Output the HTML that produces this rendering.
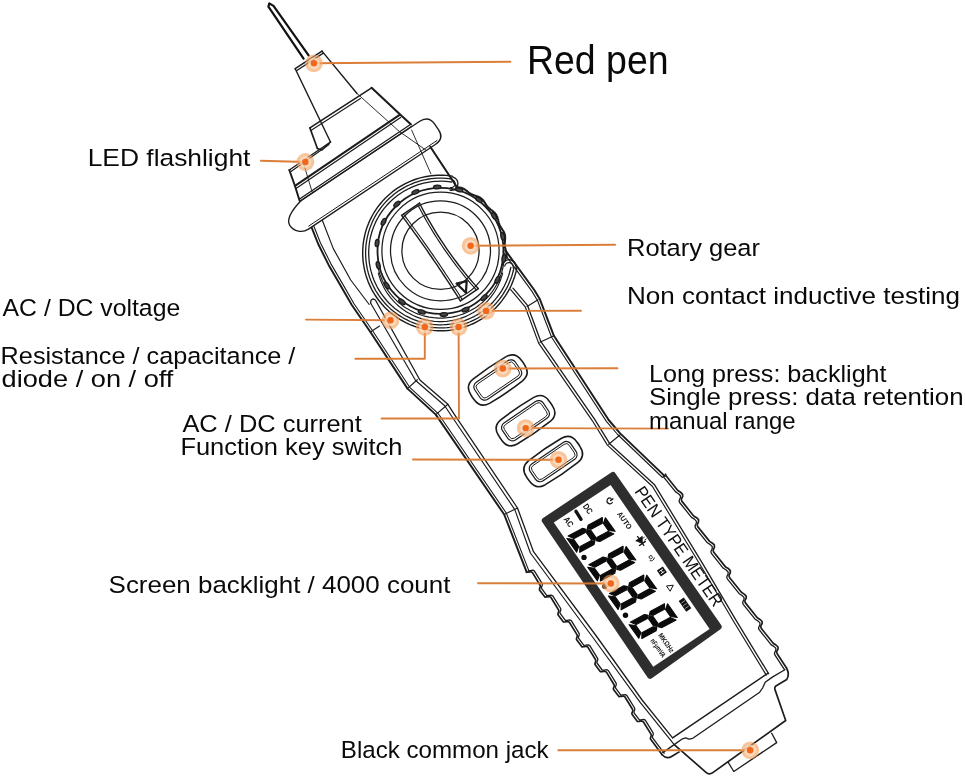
<!DOCTYPE html>
<html><head><meta charset="utf-8"><title>Pen type meter</title>
<style>html,body{margin:0;padding:0;background:#fff;}svg{display:block;will-change:transform}text{font-family:"Liberation Sans",sans-serif;fill:#0a0a0a}</style>
</head><body>
<svg width="965" height="776" viewBox="0 0 965 776">
<rect width="965" height="776" fill="#fff"/>
<path d="M303.6,58.6 L268.4,6.7 L269.3,3.4 L273.5,5.9 L308.6,55.3" fill="none" stroke="#111" stroke-width="2.21" stroke-linejoin="round" stroke-linecap="round" />
<path d="M295.2,68.7 L322.0,51.1" fill="none" stroke="#1c1c1c" stroke-width="1.56" stroke-linejoin="round" stroke-linecap="round" />
<path d="M296.5,70.7 L323.3,53.1" fill="none" stroke="#1c1c1c" stroke-width="1.3" stroke-linejoin="round" stroke-linecap="round" />
<path d="M295.2,68.7 L330.5,142.0" fill="none" stroke="#1c1c1c" stroke-width="1.4300000000000002" stroke-linejoin="round" stroke-linecap="round" />
<path d="M322.0,51.1 L357.0,93.5" fill="none" stroke="#1c1c1c" stroke-width="1.4300000000000002" stroke-linejoin="round" stroke-linecap="round" />
<path d="M357.0,93.5 L399.6,131.7 L425.8,150.0" fill="none" stroke="#1c1c1c" stroke-width="0.9099999999999999" stroke-linejoin="round" stroke-linecap="round" />
<path d="M309.9,127.9 L371.6,87.8" fill="none" stroke="#1c1c1c" stroke-width="1.56" stroke-linejoin="round" stroke-linecap="round" />
<path d="M310.9,130.5 L360.4,98.5" fill="none" stroke="#1c1c1c" stroke-width="1.1700000000000002" stroke-linejoin="round" stroke-linecap="round" />
<path d="M371.6,87.8 L399.6,113.9 L410.8,124.2" fill="none" stroke="#1c1c1c" stroke-width="2.08" stroke-linejoin="round" stroke-linecap="round" />
<path d="M309.9,127.9 L317.4,148.5" fill="none" stroke="#1c1c1c" stroke-width="1.6900000000000002" stroke-linejoin="round" stroke-linecap="round" />
<path d="M317.4,148.5 L322.0,150.0 L330.5,142.0" fill="none" stroke="#1c1c1c" stroke-width="1.4300000000000002" stroke-linejoin="round" stroke-linecap="round" />
<path d="M330.5,142.0 L289.3,170.0" fill="none" stroke="#1c1c1c" stroke-width="1.4300000000000002" stroke-linejoin="round" stroke-linecap="round" />
<path d="M329.0,144.5 L291.0,171.5" fill="none" stroke="#1c1c1c" stroke-width="1.1700000000000002" stroke-linejoin="round" stroke-linecap="round" />
<path d="M289.3,170.0 L295.0,186.0 L299.6,200.8" fill="none" stroke="#1c1c1c" stroke-width="1.9500000000000002" stroke-linejoin="round" stroke-linecap="round" />
<path d="M303.6,163.7 L312.1,191.8" fill="none" stroke="#1c1c1c" stroke-width="0.9099999999999999" stroke-linejoin="round" stroke-linecap="round" />
<path d="M295.0,185.9 L399.6,114.9" fill="none" stroke="#1c1c1c" stroke-width="2.08" stroke-linejoin="round" stroke-linecap="round" />
<path d="M296.0,188.5 L400.6,117.5" fill="none" stroke="#1c1c1c" stroke-width="1.3" stroke-linejoin="round" stroke-linecap="round" />
<path d="M299.6,199.0 L410.8,124.2" fill="none" stroke="#1c1c1c" stroke-width="1.3" stroke-linejoin="round" stroke-linecap="round" />
<path d="M300.6,201.0 L411.8,126.2" fill="none" stroke="#1c1c1c" stroke-width="1.1700000000000002" stroke-linejoin="round" stroke-linecap="round" />
<g transform="translate(289.45,224.97) rotate(-33.7)" fill="none" stroke="#1c1c1c">
<path d="M24,-14 H165.5 Q176.8,-14 176.8,-3 V4 Q176.8,14 166,14 H13.5 A13.5,13.5 0 0 1 0,0.5 Q0.5,-9 24,-14" stroke-width="1.4"/>
<path d="M15,11.6 H170" stroke-width="0.9"/>
</g>
<path d="M411.6,130.0 L430.9,173.8" fill="none" stroke="#1c1c1c" stroke-width="0.9099999999999999" stroke-linejoin="round" stroke-linecap="round" />
<path d="M311.8,227.8 L318.2,244.0 L328.6,264.9 L341.4,286.9 L351.8,305.0 L370.4,332.0 L407.5,388.6 L435.8,414.6 L504.2,514.5 L526.7,572.2" fill="none" stroke="#1c1c1c" stroke-width="1.9500000000000002" stroke-linejoin="round" stroke-linecap="round" />
<path d="M314.0,226.5 L320.4,242.7 L330.8,263.6 L343.6,285.6 L354.0,303.7 L372.6,330.7 L409.7,387.3 L438.0,413.3 L506.4,513.2 L528.9,570.9" fill="none" stroke="#1c1c1c" stroke-width="1.105" stroke-linejoin="round" stroke-linecap="round" />
<path d="M322.3,220.2 L333.3,248.6 L350.7,280.0 L369.2,304.5" fill="none" stroke="#1c1c1c" stroke-width="1.1700000000000002" stroke-linejoin="round" stroke-linecap="round" />
<path d="M370.6,303.0 L371.0,300.2 L373.0,298.8 L375.4,300.0 L419.9,380.0 L447.9,404.3 L454.5,414.6 L517.5,508.0 L533.5,551.7 L596.3,636.0 L642.1,700.0 L672.6,737.8" fill="none" stroke="#1c1c1c" stroke-width="1.3" stroke-linejoin="round" stroke-linecap="round" />
<path d="M370.6,303.0 L415.6,380.5 L444.5,405.5 L451.5,416.0 L514.8,509.6 L530.4,553.0 L593.3,638.0 L640.0,702.1 L674.2,744.6" fill="none" stroke="#1c1c1c" stroke-width="1.1700000000000002" stroke-linejoin="round" stroke-linecap="round" />
<path d="M370.4,332.0 L379.6,326.1" fill="none" stroke="#1c1c1c" stroke-width="1.1700000000000002" stroke-linejoin="round" stroke-linecap="round" />
<path d="M407.2,388.9 L417.3,379.7" fill="none" stroke="#1c1c1c" stroke-width="1.1700000000000002" stroke-linejoin="round" stroke-linecap="round" />
<path d="M435.8,414.6 L447.9,404.3" fill="none" stroke="#1c1c1c" stroke-width="1.1700000000000002" stroke-linejoin="round" stroke-linecap="round" />
<path d="M504.2,514.5 L517.5,508.0" fill="none" stroke="#1c1c1c" stroke-width="1.1700000000000002" stroke-linejoin="round" stroke-linecap="round" />
<path d="M430.3,146.8 L456.7,186.7" fill="none" stroke="#1c1c1c" stroke-width="2.08" stroke-linejoin="round" stroke-linecap="round" />
<path d="M505.3,250.3 L534.3,290.0 L539.9,299.3 L553.9,335.8 L608.7,420.0 L619.9,433.1 L664.8,476.1" fill="none" stroke="#1c1c1c" stroke-width="1.9500000000000002" stroke-linejoin="round" stroke-linecap="round" />
<path d="M503.0,251.7 L532.0,291.4 L537.6,300.7 L551.6,337.2 L606.4,421.4 L617.6,434.5 L662.5,477.5" fill="none" stroke="#1c1c1c" stroke-width="1.105" stroke-linejoin="round" stroke-linecap="round" />
<path d="M513.0,288.2 L527.5,305.4 L540.9,341.7 L594.7,419.4 L609.7,443.7 L654.6,484.8 L703.1,564.4 L735.5,619.4 L768.6,673.7" fill="none" stroke="#1c1c1c" stroke-width="1.3" stroke-linejoin="round" stroke-linecap="round" />
<path d="M510.7,289.6 L525.2,306.8 L538.6,343.1 L592.4,420.8 L607.4,445.1 L652.3,486.2 L700.8,565.8 L733.2,620.8 L766.3,675.1" fill="none" stroke="#1c1c1c" stroke-width="1.1700000000000002" stroke-linejoin="round" stroke-linecap="round" />
<path d="M527.1,306.4 L538.0,299.7" fill="none" stroke="#1c1c1c" stroke-width="1.1700000000000002" stroke-linejoin="round" stroke-linecap="round" />
<path d="M539.9,342.3 L553.5,336.0" fill="none" stroke="#1c1c1c" stroke-width="1.1700000000000002" stroke-linejoin="round" stroke-linecap="round" />
<path d="M608.7,444.3 L619.9,435.0" fill="none" stroke="#1c1c1c" stroke-width="1.1700000000000002" stroke-linejoin="round" stroke-linecap="round" />
<path d="M526.4,572.2 L528.2,572.1 L530.7,571.7 L532.3,572.4 L540.1,585.2 L540.3,586.6 L539.5,588.8 L539.5,589.9 L544.7,596.8 L544.9,597.1 L546.7,596.9 L549.2,596.6 L550.8,597.3 L558.6,610.0 L558.8,611.4 L558.0,613.6 L558.0,614.7 L563.2,621.7 L563.4,622.0 L565.2,621.8 L567.7,621.4 L569.3,622.2 L577.1,634.9 L577.3,636.3 L576.5,638.5 L576.5,639.6 L581.7,646.6 L581.9,646.8 L583.7,646.7 L586.2,646.3 L587.8,647.1 L595.6,659.8 L595.8,661.2 L595.0,663.4 L595.0,664.5 L600.2,671.5 L600.4,671.7 L602.1,671.6 L604.7,671.2 L606.3,671.9 L614.1,684.7 L614.3,686.1 L613.4,688.3 L613.5,689.4 L618.7,696.3 L618.9,696.6 L620.6,696.4 L623.2,696.1 L624.8,696.8 L632.6,709.5 L632.8,711.0 L631.9,713.1 L632.0,714.2 L637.2,721.2 L637.4,721.5 L639.1,721.3 L641.7,720.9 L643.3,721.7 L651.1,734.4 L651.3,735.8 L650.4,738.0 L650.5,739.1 L655.7,746.1 L662.1,754.7" fill="none" stroke="#1c1c1c" stroke-width="1.6900000000000002" stroke-linejoin="round" stroke-linecap="round" />
<path d="M528.4,570.7 L530.2,570.6 L532.8,570.2 L534.3,570.9 L542.2,583.7 L542.3,585.1 L541.5,587.3 L541.5,588.4 L546.7,595.3 L546.9,595.6 L548.7,595.4 L551.2,595.1 L552.8,595.8 L560.7,608.5 L560.8,610.0 L560.0,612.1 L560.0,613.2 L565.2,620.2 L565.4,620.5 L567.2,620.3 L569.7,619.9 L571.3,620.7 L579.1,633.4 L579.3,634.8 L578.5,637.0 L578.5,638.1 L583.7,645.1 L583.9,645.3 L585.7,645.2 L588.2,644.8 L589.8,645.6 L597.6,658.3 L597.8,659.7 L597.0,661.9 L597.0,663.0 L602.2,670.0 L602.4,670.2 L604.2,670.1 L606.7,669.7 L608.3,670.5 L616.1,683.2 L616.3,684.6 L615.5,686.8 L615.5,687.9 L620.7,694.8 L620.9,695.1 L622.7,694.9 L625.2,694.6 L626.8,695.3 L634.6,708.0 L634.8,709.5 L634.0,711.6 L634.0,712.8 L639.2,719.7 L639.4,720.0 L641.1,719.8 L643.7,719.4 L645.3,720.2 L653.1,732.9 L653.3,734.3 L652.4,736.5 L652.5,737.6 L657.7,744.6 L664.1,753.2" fill="none" stroke="#1c1c1c" stroke-width="1.3" stroke-linejoin="round" stroke-linecap="round" />
<path d="M665.5,474.2 L666.0,475.7 L677.8,490.6 L680.7,492.3 L682.6,494.3 L682.7,496.4 L681.6,498.5 L681.3,499.5 L681.4,499.6 L681.8,501.1 L693.7,516.0 L696.6,517.7 L698.5,519.7 L698.5,521.8 L697.5,523.9 L697.2,525.0 L697.3,525.1 L697.7,526.6 L709.6,541.4 L712.5,543.2 L714.4,545.2 L714.4,547.3 L713.4,549.4 L713.1,550.4 L713.2,550.5 L713.6,552.0 L725.5,566.9 L728.4,568.6 L730.3,570.6 L730.3,572.7 L729.3,574.8 L729.0,575.9 L729.1,576.0 L729.5,577.5 L741.4,592.3 L744.2,594.1 L746.2,596.1 L746.2,598.2 L745.1,600.2 L744.9,601.3 L744.9,601.4 L745.4,602.9 L757.3,617.8 L760.1,619.5 L762.1,621.5 L762.1,623.6 L761.0,625.7 L760.7,626.8 L760.8,626.9 L761.3,628.4 L773.2,643.2 L776.0,645.0 L778.0,647.0 L778.0,649.1 L776.9,651.1 L776.6,652.2 L776.7,652.3 L777.2,653.8 L786.5,668.0" fill="none" stroke="#1c1c1c" stroke-width="1.6900000000000002" stroke-linejoin="round" stroke-linecap="round" />
<path d="M663.3,475.6 L663.7,477.1 L675.6,491.9 L678.5,493.7 L680.4,495.7 L680.4,497.8 L679.4,499.8 L679.1,500.9 L679.2,501.0 L679.6,502.5 L691.5,517.4 L694.4,519.1 L696.3,521.1 L696.3,523.2 L695.3,525.3 L695.0,526.3 L695.1,526.5 L695.5,528.0 L707.4,542.8 L710.3,544.6 L712.2,546.5 L712.2,548.7 L711.2,550.7 L710.9,551.8 L711.0,551.9 L711.4,553.4 L723.3,568.3 L726.2,570.0 L728.1,572.0 L728.1,574.1 L727.0,576.2 L726.8,577.2 L726.8,577.4 L727.3,578.9 L739.2,593.7 L742.0,595.5 L744.0,597.4 L744.0,599.5 L742.9,601.6 L742.7,602.7 L742.7,602.8 L743.2,604.3 L755.1,619.2 L757.9,620.9 L759.9,622.9 L759.9,625.0 L758.8,627.1 L758.5,628.1 L758.6,628.3 L759.1,629.7 L771.0,644.6 L773.8,646.4 L775.8,648.3 L775.8,650.4 L774.7,652.5 L774.4,653.6 L774.5,653.7 L775.0,655.2 L784.3,669.4" fill="none" stroke="#1c1c1c" stroke-width="1.3" stroke-linejoin="round" stroke-linecap="round" />
<path d="M786.5,668 Q790,674 786.7,679.6 L775.9,685.9 Q774.2,687.6 775,689.6 L785.7,720.5 L712.8,772.6 Q709,775.2 706,772.3 L674.2,744.6" fill="none" stroke="#1c1c1c" stroke-width="1.69" stroke-linejoin="round"/>
<path d="M662.1,754.7 Q666.6,759.6 672,756.2 L679.6,751.6" fill="none" stroke="#1c1c1c" stroke-width="1.69" stroke-linejoin="round"/>
<path d="M784.9,669.7 L772.7,676.9 L765.2,682.3 L762.6,688.0 L759.7,692.2 L692.8,738.3 L689.0,739.2 L685.6,737.8 L682.5,738.8 L674.2,744.6 L662.8,752.6" fill="none" stroke="#1c1c1c" stroke-width="1.3" stroke-linejoin="round" stroke-linecap="round" />
<path d="M767.8,673.3 L672.6,737.8" fill="none" stroke="#1c1c1c" stroke-width="1.4300000000000002" stroke-linejoin="round" stroke-linecap="round" />
<path d="M771.7,733.2 L776.7,742.6 L733.8,771.5 L728.1,762.2" fill="none" stroke="#1c1c1c" stroke-width="1.3" stroke-linejoin="round" stroke-linecap="round" />
<path d="M516.7,268.5 L516.1,271.5 L515.3,274.4 L514.4,277.3 L513.4,280.1 L512.3,282.9 L511.1,285.7 L509.8,288.4 L508.3,291.1 L506.8,293.7 L505.2,296.2 L503.4,298.7 L501.6,301.1 L499.7,303.5 L497.7,305.7 L495.6,307.9 L493.4,310.0 L491.2,312.0 L488.8,314.0 L486.4,315.8 L484.0,317.5 L481.4,319.2 L478.8,320.7 L476.2,322.1 L473.5,323.5 L470.7,324.7 L467.9,325.8 L465.0,326.8 L462.1,327.7 L459.2,328.5 L456.3,329.2 L453.3,329.7 L450.3,330.2 L447.3,330.5 L444.3,330.7 L441.3,330.8 L438.2,330.8 L435.2,330.6 L432.2,330.4 L429.2,330.0 L426.2,329.5 L423.3,328.9 L420.3,328.1 L417.4,327.3 L414.6,326.3 L411.7,325.3 L408.9,324.1 L406.2,322.8 L403.5,321.4 L400.9,320.0 L398.3,318.4 L395.8,316.7 L393.4,314.9 L391.0,313.0 L388.7,311.1 L386.5,309.0 L384.4,306.9 L382.3,304.6 L380.3,302.3 L378.5,300.0 L376.7,297.5 L375.0,295.0 L373.4,292.4 L371.9,289.8 L370.6,287.1 L369.3,284.4 L368.1,281.6 L367.1,278.7 L366.1,275.9 L365.3,273.0 L364.6,270.0 L364.0,267.1 L363.5,264.1 L363.1,261.1 L362.9,258.1 L362.7,255.0 L362.7,252.0 L362.8,249.0 L363.0,246.0 L363.3,243.0 L363.8,240.0 L364.4,237.0 L365.0,234.1 L365.8,231.1 L366.7,228.3 L367.8,225.4 L368.9,222.6 L370.1,219.8 L371.5,217.1 L372.9,214.5 L374.5,211.9 L376.1,209.4 L377.8,206.9 L379.7,204.5 L381.6,202.2 L383.6,199.9 L385.7,197.7 L387.9,195.7 L390.2,193.7 L392.5,191.7 L395.0,189.9 L397.4,188.2 L400.0,186.6 L402.6,185.1 L405.3,183.6 L408.0,182.3 L410.8,181.1 L413.6,180.0 L416.4,179.0 L419.3,178.1 L422.2,177.4 L425.2,176.7 L428.2,176.2 L431.2,175.8 L434.2,175.5 L437.2,175.3 L440.2,175.2 L443.2,175.2 L446.3,175.4 L449.3,175.7 L452.3,176.1" fill="none" stroke="#1c1c1c" stroke-width="1.4300000000000002" stroke-linejoin="round" stroke-linecap="round" />
<path d="M513.9,267.9 L513.3,270.8 L512.5,273.6 L511.7,276.4 L510.7,279.1 L509.6,281.8 L508.5,284.5 L507.2,287.1 L505.8,289.7 L504.3,292.2 L502.8,294.6 L501.1,297.0 L499.3,299.3 L497.5,301.6 L495.6,303.8 L493.6,305.9 L491.5,307.9 L489.3,309.8 L487.0,311.7 L484.7,313.4 L482.3,315.1 L479.9,316.7 L477.4,318.2 L474.8,319.6 L472.2,320.8 L469.6,322.0 L466.9,323.1 L464.1,324.1 L461.3,324.9 L458.5,325.7 L455.7,326.3 L452.8,326.9 L449.9,327.3 L447.1,327.6 L444.2,327.8 L441.2,327.9 L438.3,327.9 L435.4,327.7 L432.5,327.5 L429.6,327.1 L426.8,326.6 L423.9,326.0 L421.1,325.3 L418.3,324.5 L415.5,323.6 L412.8,322.6 L410.1,321.5 L407.5,320.2 L404.9,318.9 L402.4,317.5 L399.9,315.9 L397.5,314.3 L395.1,312.6 L392.8,310.8 L390.6,308.9 L388.5,306.9 L386.4,304.8 L384.5,302.7 L382.6,300.5 L380.8,298.2 L379.1,295.9 L377.5,293.4 L375.9,291.0 L374.5,288.4 L373.2,285.8 L372.0,283.2 L370.8,280.5 L369.8,277.8 L368.9,275.0 L368.1,272.2 L367.4,269.4 L366.8,266.5 L366.4,263.7 L366.0,260.8 L365.8,257.9 L365.6,255.0 L365.6,252.1 L365.7,249.1 L365.9,246.2 L366.2,243.3 L366.7,240.5 L367.2,237.6 L367.9,234.8 L368.6,232.0 L369.5,229.2 L370.5,226.4 L371.6,223.7 L372.7,221.1 L374.0,218.5 L375.4,215.9 L376.9,213.4 L378.5,211.0 L380.2,208.6 L381.9,206.3 L383.8,204.1 L385.8,201.9 L387.8,199.8 L389.9,197.8 L392.1,195.9 L394.3,194.0 L396.7,192.3 L399.0,190.6 L401.5,189.1 L404.0,187.6 L406.6,186.2 L409.2,185.0 L411.9,183.8 L414.6,182.7 L417.3,181.8 L420.1,180.9 L422.9,180.2 L425.8,179.6 L428.6,179.0 L431.5,178.6 L434.4,178.3 L437.3,178.2 L440.2,178.1 L443.1,178.1 L446.0,178.3 L448.9,178.6 L451.8,179.0" fill="none" stroke="#1c1c1c" stroke-width="1.3" stroke-linejoin="round" stroke-linecap="round" />
<path d="M510.9,267.3 L510.2,270.0 L509.5,272.7 L508.7,275.4 L507.8,278.0 L506.8,280.6 L505.6,283.2 L504.4,285.7 L503.1,288.2 L501.7,290.6 L500.2,292.9 L498.6,295.2 L496.9,297.4 L495.1,299.6 L493.3,301.7 L491.4,303.7 L489.4,305.6 L487.3,307.5 L485.1,309.3 L482.9,310.9 L480.6,312.5 L478.3,314.1 L475.9,315.5 L473.4,316.8 L470.9,318.0 L468.4,319.2 L465.8,320.2 L463.1,321.1 L460.5,322.0 L457.8,322.7 L455.1,323.3 L452.3,323.8 L449.6,324.2 L446.8,324.5 L444.0,324.7 L441.2,324.8 L438.4,324.8 L435.6,324.6 L432.9,324.4 L430.1,324.0 L427.3,323.6 L424.6,323.0 L421.9,322.3 L419.2,321.6 L416.6,320.7 L414.0,319.7 L411.4,318.6 L408.9,317.4 L406.4,316.2 L403.9,314.8 L401.6,313.3 L399.3,311.8 L397.0,310.1 L394.8,308.4 L392.7,306.6 L390.7,304.7 L388.7,302.7 L386.8,300.7 L385.0,298.5 L383.3,296.3 L381.6,294.1 L380.1,291.8 L378.6,289.4 L377.2,287.0 L376.0,284.5 L374.8,281.9 L373.7,279.4 L372.7,276.7 L371.9,274.1 L371.1,271.4 L370.4,268.7 L369.9,266.0 L369.4,263.2 L369.1,260.4 L368.9,257.7 L368.7,254.9 L368.7,252.1 L368.8,249.3 L369.0,246.5 L369.3,243.7 L369.7,241.0 L370.2,238.2 L370.9,235.5 L371.6,232.8 L372.4,230.2 L373.4,227.5 L374.4,225.0 L375.5,222.4 L376.8,219.9 L378.1,217.5 L379.5,215.1 L381.1,212.7 L382.7,210.4 L384.4,208.2 L386.2,206.1 L388.0,204.0 L390.0,202.0 L392.0,200.1 L394.1,198.2 L396.2,196.5 L398.5,194.8 L400.8,193.2 L403.1,191.7 L405.5,190.3 L408.0,189.0 L410.5,187.8 L413.1,186.7 L415.7,185.6 L418.3,184.7 L421.0,183.9 L423.7,183.2 L426.4,182.6 L429.1,182.1 L431.9,181.7 L434.7,181.4 L437.5,181.3 L440.2,181.2 L443.0,181.2 L445.8,181.4 L448.6,181.7 L451.4,182.0" fill="none" stroke="#1c1c1c" stroke-width="1.3" stroke-linejoin="round" stroke-linecap="round" />
<path d="M501.8,265.5 L502.3,264.1 L502.9,262.9 L503.8,261.8 L504.9,260.9 L506.2,260.3 L507.5,259.8 L508.9,259.7 L510.3,259.9 L511.7,260.3 L512.9,260.9 L514.0,261.8 L514.9,262.9 L515.6,264.2 L516.0,265.5 L516.1,266.9 L516.0,268.4" fill="none" stroke="#1c1c1c" stroke-width="1.3" stroke-linejoin="round" stroke-linecap="round" />
<path d="M504.7,266.1 L505.1,265.0 L505.7,264.1 L506.5,263.3 L507.5,262.8 L508.6,262.6 L509.8,262.7 L510.8,263.1 L511.7,263.7 L512.5,264.5 L513.0,265.6 L513.2,266.7 L513.1,267.8" fill="none" stroke="#1c1c1c" stroke-width="1.1700000000000002" stroke-linejoin="round" stroke-linecap="round" />
<path d="M452.1,176.9 L453.4,177.2 L454.6,177.8 L455.7,178.6 L456.6,179.6 L457.3,180.7 L457.7,182.0 L457.9,183.3 L457.8,184.6 L457.5,185.9 L456.9,187.1 L456.1,188.2 L455.1,189.1 L454.0,189.8 L452.7,190.2 L451.4,190.4 L450.1,190.3" fill="none" stroke="#1c1c1c" stroke-width="1.3" stroke-linejoin="round" stroke-linecap="round" />
<path d="M451.7,179.7 L452.7,179.9 L453.6,180.5 L454.3,181.2 L454.8,182.2 L455.1,183.2 L455.1,184.2 L454.8,185.2 L454.2,186.1 L453.5,186.8 L452.6,187.3 L451.6,187.6 L450.5,187.6" fill="none" stroke="#1c1c1c" stroke-width="1.1700000000000002" stroke-linejoin="round" stroke-linecap="round" />
<path d="M503.7,263.2 L503.3,265.4 L502.9,267.7 L502.4,269.9 L501.8,272.1 L501.1,274.3 L500.3,276.4 L499.5,278.6 L498.6,280.7 L497.6,282.7 L496.6,284.7 L495.4,286.7 L494.2,288.7 L493.0,290.6 L491.7,292.4 L490.3,294.2 L488.8,296.0 L487.3,297.7 L485.7,299.3 L484.1,300.9 L482.4,302.5 L480.6,303.9 L478.8,305.3 L477.0,306.7 L475.1,307.9 L473.1,309.1 L471.1,310.3 L469.1,311.3 L467.1,312.3 L465.0,313.2 L462.8,314.1 L460.7,314.8 L458.5,315.5 L456.3,316.1 L454.1,316.6 L451.9,317.1 L449.6,317.4 L447.3,317.7 L445.1,317.9 L442.8,318.1 L440.5,318.1 L438.2,318.1 L435.9,317.9 L433.7,317.7 L431.4,317.4 L429.1,317.1 L426.9,316.6 L424.7,316.1 L422.5,315.5 L420.3,314.8 L418.2,314.1 L416.0,313.2 L413.9,312.3 L411.9,311.3 L409.9,310.3 L407.9,309.1 L405.9,307.9 L404.0,306.7 L402.2,305.3 L400.4,303.9 L398.6,302.5 L396.9,300.9 L395.3,299.3 L393.7,297.7 L392.2,296.0 L390.7,294.2 L389.3,292.4 L388.0,290.6 L386.8,288.7 L385.6,286.7 L384.4,284.7 L383.4,282.7 L382.4,280.7 L381.5,278.6 L380.7,276.4 L379.9,274.3 L379.2,272.1 L378.6,269.9 L378.1,267.7 L377.7,265.4 L377.3,263.2" fill="none" stroke="#1c1c1c" stroke-width="1.1700000000000002" stroke-linejoin="round" stroke-linecap="round" />
<path d="M502.6,273.1 L502.1,275.1 L501.4,277.2 L500.8,279.2 L500.0,281.2 L499.2,283.1 L498.3,285.1 L497.4,287.0 L496.4,288.8 L495.3,290.7 L494.2,292.5 L493.0,294.2 L491.7,295.9 L490.4,297.6 L489.1,299.2 L487.7,300.8 L486.2,302.4 L484.7,303.9 L483.2,305.3 L481.6,306.7 L479.9,308.0 L478.2,309.3 L476.5,310.5 L474.7,311.7 L472.9,312.8 L471.0,313.8 L469.2,314.8 L467.2,315.7 L465.3,316.6 L463.3,317.4 L461.3,318.1 L459.3,318.8 L457.3,319.4 L455.2,319.9 L453.2,320.3 L451.1,320.7 L449.0,321.0 L446.9,321.3 L444.7,321.5 L442.6,321.6 L440.5,321.6 L438.4,321.6 L436.3,321.5 L434.1,321.3 L432.0,321.0 L429.9,320.7 L427.8,320.3 L425.8,319.9 L423.7,319.4 L421.7,318.8 L419.7,318.1 L417.7,317.4 L415.7,316.6 L413.8,315.7 L411.8,314.8 L410.0,313.8 L408.1,312.8 L406.3,311.7 L404.5,310.5 L402.8,309.3 L401.1,308.0 L399.4,306.7 L397.8,305.3 L396.3,303.9 L394.8,302.4 L393.3,300.8 L391.9,299.2 L390.6,297.6 L389.3,295.9 L388.0,294.2 L386.8,292.5 L385.7,290.7 L384.6,288.8 L383.6,287.0 L382.7,285.1 L381.8,283.1 L381.0,281.2 L380.2,279.2 L379.6,277.2 L378.9,275.1 L378.4,273.1" fill="none" stroke="#1c1c1c" stroke-width="1.1700000000000002" stroke-linejoin="round" stroke-linecap="round" />
<circle cx="440.5" cy="250.8" r="63.0" fill="none" stroke="#1c1c1c" stroke-width="1.8"/>
<ellipse cx="503.9" cy="258.6" rx="3.7" ry="1.9" transform="rotate(97.0 503.9 258.6)" fill="#444" stroke="#1c1c1c" stroke-width="1.3"/>
<ellipse cx="497.4" cy="279.8" rx="3.7" ry="1.9" transform="rotate(117.0 497.4 279.8)" fill="#444" stroke="#1c1c1c" stroke-width="1.3"/>
<ellipse cx="484.1" cy="297.5" rx="3.7" ry="1.9" transform="rotate(137.0 484.1 297.5)" fill="#444" stroke="#1c1c1c" stroke-width="1.3"/>
<ellipse cx="465.5" cy="309.6" rx="3.7" ry="1.9" transform="rotate(157.0 465.5 309.6)" fill="#444" stroke="#1c1c1c" stroke-width="1.3"/>
<ellipse cx="443.8" cy="314.6" rx="3.7" ry="1.9" transform="rotate(177.0 443.8 314.6)" fill="#444" stroke="#1c1c1c" stroke-width="1.3"/>
<ellipse cx="421.8" cy="311.9" rx="3.7" ry="1.9" transform="rotate(197.0 421.8 311.9)" fill="#444" stroke="#1c1c1c" stroke-width="1.3"/>
<ellipse cx="402.0" cy="301.8" rx="3.7" ry="1.9" transform="rotate(217.0 402.0 301.8)" fill="#444" stroke="#1c1c1c" stroke-width="1.3"/>
<ellipse cx="386.9" cy="285.6" rx="3.7" ry="1.9" transform="rotate(237.0 386.9 285.6)" fill="#444" stroke="#1c1c1c" stroke-width="1.3"/>
<ellipse cx="378.2" cy="265.2" rx="3.7" ry="1.9" transform="rotate(257.0 378.2 265.2)" fill="#444" stroke="#1c1c1c" stroke-width="1.3"/>
<ellipse cx="377.1" cy="243.0" rx="3.7" ry="1.9" transform="rotate(277.0 377.1 243.0)" fill="#444" stroke="#1c1c1c" stroke-width="1.3"/>
<ellipse cx="383.6" cy="221.8" rx="3.7" ry="1.9" transform="rotate(297.0 383.6 221.8)" fill="#444" stroke="#1c1c1c" stroke-width="1.3"/>
<ellipse cx="396.9" cy="204.1" rx="3.7" ry="1.9" transform="rotate(317.0 396.9 204.1)" fill="#444" stroke="#1c1c1c" stroke-width="1.3"/>
<ellipse cx="415.5" cy="192.0" rx="3.7" ry="1.9" transform="rotate(337.0 415.5 192.0)" fill="#444" stroke="#1c1c1c" stroke-width="1.3"/>
<ellipse cx="437.2" cy="187.0" rx="3.7" ry="1.9" transform="rotate(357.0 437.2 187.0)" fill="#444" stroke="#1c1c1c" stroke-width="1.3"/>
<ellipse cx="459.2" cy="189.7" rx="3.7" ry="1.9" transform="rotate(377.0 459.2 189.7)" fill="#444" stroke="#1c1c1c" stroke-width="1.3"/>
<ellipse cx="479.0" cy="199.8" rx="3.7" ry="1.9" transform="rotate(397.0 479.0 199.8)" fill="#444" stroke="#1c1c1c" stroke-width="1.3"/>
<ellipse cx="494.1" cy="216.0" rx="3.7" ry="1.9" transform="rotate(417.0 494.1 216.0)" fill="#444" stroke="#1c1c1c" stroke-width="1.3"/>
<ellipse cx="502.8" cy="236.4" rx="3.7" ry="1.9" transform="rotate(437.0 502.8 236.4)" fill="#444" stroke="#1c1c1c" stroke-width="1.3"/>
<path d="M456.3,187.4 L456.7,187.4 L457.2,187.4 L457.6,187.4 L458.1,187.4 L458.5,187.4 L458.9,187.5 L459.4,187.5 L459.8,187.6 L460.2,187.6 L460.7,187.7 L461.1,187.8 L461.5,187.9 L461.9,188.1 L462.3,188.2 L462.7,188.4 L463.1,188.5 L463.5,188.7 L463.9,188.9 L464.3,189.1 L464.6,189.4 L465.0,189.6 L465.4,189.9 L465.7,190.1 L466.1,190.4 L466.4,190.6 L466.8,190.9 L467.1,191.2 L467.5,191.5 L467.8,191.7 L468.1,192.0 L468.5,192.3 L468.8,192.5 L469.2,192.8 L469.5,193.0 L469.9,193.3 L470.2,193.5 L470.6,193.7 L470.9,193.9 L471.3,194.1 L471.7,194.3 L472.1,194.5 L472.4,194.7 L472.8,194.8 L473.2,195.0 L473.6,195.2 L474.0,195.3 L474.4,195.4 L474.9,195.6 L475.3,195.7 L475.7,195.9 L476.1,196.0 L476.5,196.1 L476.9,196.3 L477.4,196.4 L477.8,196.6 L478.2,196.7 L478.6,196.9 L479.0,197.1 L479.4,197.3 L479.7,197.5 L480.1,197.7 L480.5,198.0 L480.8,198.2 L481.2,198.5 L481.5,198.7 L481.8,199.0 L482.2,199.3 L482.5,199.6 L482.8,199.9 L483.1,200.3 L483.3,200.6 L483.6,200.9 L483.9,201.3 L484.1,201.7 L484.4,202.0 L484.6,202.4 L484.8,202.8 L485.1,203.1 L485.3,203.5 L485.5,203.9 L485.8,204.2 L486.0,204.6 L486.3,204.9 L486.5,205.3 L486.7,205.6 L487.0,206.0 L487.3,206.3 L487.5,206.6 L487.8,207.0 L488.1,207.3 L488.4,207.6 L488.7,207.9 L489.0,208.1 L489.3,208.4 L489.6,208.7 L490.0,209.0 L490.3,209.2 L490.6,209.5 L491.0,209.8 L491.3,210.0 L491.7,210.3 L492.0,210.6 L492.4,210.8 L492.7,211.1 L493.1,211.4 L493.4,211.7 L493.7,212.0 L494.1,212.3 L494.4,212.6 L494.7,212.9 L495.0,213.2 L495.3,213.5 L495.5,213.9 L495.8,214.2 L496.0,214.6 L496.2,214.9 L496.5,215.3 L496.7,215.7 L496.8,216.1 L497.0,216.5 L497.2,216.9 L497.3,217.3 L497.5,217.7 L497.6,218.1 L497.7,218.5 L497.8,219.0 L497.9,219.4 L498.1,219.8 L498.2,220.2 L498.3,220.7 L498.4,221.1 L498.5,221.5 L498.6,221.9 L498.7,222.4 L498.8,222.8 L498.9,223.2 L499.1,223.6 L499.2,224.0 L499.3,224.4 L499.5,224.8 L499.7,225.1 L499.9,225.5 L500.0,225.9 L500.2,226.3 L500.5,226.6 L500.7,227.0 L500.9,227.4 L501.1,227.7 L501.4,228.1 L501.6,228.4 L501.9,228.8 L502.1,229.2 L502.3,229.5 L502.6,229.9 L502.8,230.3 L503.1,230.7 L503.3,231.0 L503.5,231.4 L503.7,231.8 L503.9,232.2 L504.1,232.6 L504.3,233.0 L504.4,233.4 L504.6,233.8 L504.7,234.2 L504.8,234.6 L504.9,235.0 L505.0,235.5 L505.0,235.9 L505.1,236.3 L505.1,236.8 L505.1,237.2 L505.1,237.6 L505.1,238.1 L505.1,238.5 L505.1,238.9 L505.1,239.4 L505.0,239.8 L505.0,240.3 L504.9,240.7 L504.9,241.1 L504.9,241.6 L504.8,242.0 L504.8,242.4 L504.8,242.9 L504.7,243.3 L504.7,243.7 L504.7,244.1 L504.7,244.6 L504.7,245.0 L504.8,245.4 L504.8,245.8 L504.9,246.2 L504.9,246.6 L505.0,247.1 L505.1,247.5 L505.2,247.9 L505.3,248.3 L505.4,248.7 L505.5,249.2 L505.6,249.6 L505.7,250.0 L505.8,250.4 L505.9,250.8 L506.0,251.3 L506.1,251.7 L506.2,252.1 L506.3,252.6 L506.4,253.0 L506.5,253.4 L506.5,253.9 L506.6,254.3 L506.6,254.7 L506.6,255.1 L506.6,255.6 L506.6,256.0 L506.6,256.4 L506.5,256.9 L506.4,257.3 L506.4,257.7" fill="none" stroke="#1c1c1c" stroke-width="2.08" stroke-linejoin="round" stroke-linecap="round" />
<circle cx="440.5" cy="250.8" r="58.6" fill="none" stroke="#1c1c1c" stroke-width="1.25"/>
<circle cx="440.5" cy="250.8" r="50.0" fill="none" stroke="#1c1c1c" stroke-width="1.25"/>
<circle cx="440.5" cy="250.8" r="38.6" fill="none" stroke="#1c1c1c" stroke-width="1.25"/>
<path d="M401.6,215.4 L404.2,218.9 L406.8,222.3 L409.3,225.8 L411.9,229.3 L414.4,232.8 L417.0,236.3 L419.5,239.8 L422.0,243.4 L424.5,246.9 L427.0,250.4 L429.4,254.0 L431.9,257.5 L434.3,261.1 L436.8,264.7 L439.2,268.3 L441.6,271.9 L444.0,275.5 L446.4,279.1 L448.7,282.7 L451.1,286.3 L453.4,290.0 L455.8,293.6 L458.1,297.3 L460.4,300.9" fill="none" stroke="#1c1c1c" stroke-width="1.4300000000000002" stroke-linejoin="round" stroke-linecap="round" />
<path d="M419.5,203.1 L421.5,207.0 L423.5,210.8 L425.6,214.6 L427.7,218.4 L429.9,222.2 L432.1,225.9 L434.3,229.6 L436.6,233.3 L438.9,237.0 L441.3,240.6 L443.7,244.2 L446.1,247.8 L448.6,251.4 L451.1,254.9 L453.6,258.4 L456.2,261.8 L458.8,265.3 L461.5,268.7 L464.2,272.1 L466.9,275.5 L469.7,278.8 L472.5,282.1 L475.4,285.4 L478.3,288.6" fill="none" stroke="#1c1c1c" stroke-width="1.4300000000000002" stroke-linejoin="round" stroke-linecap="round" />
<path d="M403.5,214.1 L406.1,217.6 L408.7,221.0 L411.2,224.5 L413.8,228.0 L416.3,231.5 L418.9,235.0 L421.4,238.5 L423.9,242.1 L426.4,245.6 L428.9,249.1 L431.3,252.7 L433.8,256.2 L436.2,259.8 L438.7,263.4 L441.1,267.0 L443.5,270.6 L445.9,274.2 L448.3,277.8 L450.6,281.4 L453.0,285.0 L455.3,288.7 L457.7,292.3 L460.0,296.0 L462.3,299.6" fill="none" stroke="#1c1c1c" stroke-width="1.1700000000000002" stroke-linejoin="round" stroke-linecap="round" />
<path d="M417.6,204.4 L419.6,208.3 L421.6,212.1 L423.7,215.9 L425.8,219.7 L428.0,223.5 L430.2,227.2 L432.4,230.9 L434.7,234.6 L437.0,238.3 L439.4,241.9 L441.8,245.5 L444.2,249.1 L446.7,252.7 L449.2,256.2 L451.7,259.7 L454.3,263.1 L456.9,266.6 L459.6,270.0 L462.3,273.4 L465.0,276.8 L467.8,280.1 L470.6,283.4 L473.5,286.7 L476.4,290.0" fill="none" stroke="#1c1c1c" stroke-width="1.1700000000000002" stroke-linejoin="round" stroke-linecap="round" />
<path d="M401.6,215.4 L419.5,203.1" fill="none" stroke="#1c1c1c" stroke-width="1.4300000000000002" stroke-linejoin="round" stroke-linecap="round" />
<path d="M460.4,300.9 L478.3,288.6" fill="none" stroke="#1c1c1c" stroke-width="1.4300000000000002" stroke-linejoin="round" stroke-linecap="round" />
<path d="M456.6,283.5 L466.7,281.2 L465.9,292.8 L456.6,283.5" fill="none" stroke="#1c1c1c" stroke-width="2.21" stroke-linejoin="round" stroke-linecap="round" />
<g transform="translate(497.8,380.0) rotate(-34.3)" fill="none" stroke="#1c1c1c">
<path d="M-20,-14.6 Q0,-16 20,-14.6 Q30.4,-13.6 30.6,-3 Q30.9,0 30.6,3 Q30.4,13.6 20,14.6 Q0,16 -20,14.6 Q-30.4,13.6 -30.6,3 Q-30.9,0 -30.6,-3 Q-30.4,-13.6 -20,-14.6Z" fill="#fff" stroke-width="1.6"/>
<rect x="-24.6" y="-10.2" width="49.2" height="20.4" rx="5.5" ry="5.5" stroke-width="1.2"/>
<rect x="-22.4" y="-8.1" width="44.8" height="16.2" rx="3.6" ry="3.6" stroke-width="0.9"/>
</g>
<g transform="translate(525.5,420.7) rotate(-34.3)" fill="none" stroke="#1c1c1c">
<path d="M-20,-14.6 Q0,-16 20,-14.6 Q30.4,-13.6 30.6,-3 Q30.9,0 30.6,3 Q30.4,13.6 20,14.6 Q0,16 -20,14.6 Q-30.4,13.6 -30.6,3 Q-30.9,0 -30.6,-3 Q-30.4,-13.6 -20,-14.6Z" fill="#fff" stroke-width="1.6"/>
<rect x="-24.6" y="-10.2" width="49.2" height="20.4" rx="5.5" ry="5.5" stroke-width="1.2"/>
<rect x="-22.4" y="-8.1" width="44.8" height="16.2" rx="3.6" ry="3.6" stroke-width="0.9"/>
</g>
<g transform="translate(553.2,461.6) rotate(-34.3)" fill="none" stroke="#1c1c1c">
<path d="M-20,-14.6 Q0,-16 20,-14.6 Q30.4,-13.6 30.6,-3 Q30.9,0 30.6,3 Q30.4,13.6 20,14.6 Q0,16 -20,14.6 Q-30.4,13.6 -30.6,3 Q-30.9,0 -30.6,-3 Q-30.4,-13.6 -20,-14.6Z" fill="#fff" stroke-width="1.6"/>
<rect x="-24.6" y="-10.2" width="49.2" height="20.4" rx="5.5" ry="5.5" stroke-width="1.2"/>
<rect x="-22.4" y="-8.1" width="44.8" height="16.2" rx="3.6" ry="3.6" stroke-width="0.9"/>
</g>
<polygon points="612.9,474.9 544.8,520.5 650.1,675.8 718.7,626.7" fill="#2e2e2e" stroke="#2e2e2e" stroke-width="6" stroke-linejoin="round"/>
<polygon points="610.6,484.9 553.8,522.6 653.3,666.7 709.6,629" fill="#fff"/>
<g transform="translate(604.5,516.4) rotate(54.6) skewX(-7)" fill="#0b0b0b" stroke="#0b0b0b" stroke-width="1.1" stroke-linejoin="round"><polygon points="1.65,0.00 18.35,0.00 14.25,5.00 5.75,5.00"/><polygon points="3.25,21.70 5.75,19.20 14.25,19.20 16.75,21.70 14.25,24.20 5.75,24.20"/><polygon points="5.75,38.40 14.25,38.40 18.35,43.40 1.65,43.40"/><polygon points="0.00,2.40 5.00,5.75 5.00,18.45 2.50,20.95 0.00,18.45"/><polygon points="20.00,2.40 20.00,18.45 17.50,20.95 15.00,18.45 15.00,5.75"/><polygon points="0.00,24.95 2.50,22.45 5.00,24.95 5.00,37.65 0.00,41.00"/><polygon points="20.00,24.95 20.00,41.00 15.00,37.65 15.00,24.95 17.50,22.45"/></g>
<g transform="translate(625.2,545.1) rotate(54.6) skewX(-7)" fill="#0b0b0b" stroke="#0b0b0b" stroke-width="1.1" stroke-linejoin="round"><polygon points="1.65,0.00 18.35,0.00 14.25,5.00 5.75,5.00"/><polygon points="3.25,21.70 5.75,19.20 14.25,19.20 16.75,21.70 14.25,24.20 5.75,24.20"/><polygon points="5.75,38.40 14.25,38.40 18.35,43.40 1.65,43.40"/><polygon points="0.00,2.40 5.00,5.75 5.00,18.45 2.50,20.95 0.00,18.45"/><polygon points="20.00,2.40 20.00,18.45 17.50,20.95 15.00,18.45 15.00,5.75"/><polygon points="0.00,24.95 2.50,22.45 5.00,24.95 5.00,37.65 0.00,41.00"/><polygon points="20.00,24.95 20.00,41.00 15.00,37.65 15.00,24.95 17.50,22.45"/></g>
<g transform="translate(645.9,573.8) rotate(54.6) skewX(-7)" fill="#0b0b0b" stroke="#0b0b0b" stroke-width="1.1" stroke-linejoin="round"><polygon points="1.65,0.00 18.35,0.00 14.25,5.00 5.75,5.00"/><polygon points="3.25,21.70 5.75,19.20 14.25,19.20 16.75,21.70 14.25,24.20 5.75,24.20"/><polygon points="5.75,38.40 14.25,38.40 18.35,43.40 1.65,43.40"/><polygon points="0.00,2.40 5.00,5.75 5.00,18.45 2.50,20.95 0.00,18.45"/><polygon points="20.00,2.40 20.00,18.45 17.50,20.95 15.00,18.45 15.00,5.75"/><polygon points="0.00,24.95 2.50,22.45 5.00,24.95 5.00,37.65 0.00,41.00"/><polygon points="20.00,24.95 20.00,41.00 15.00,37.65 15.00,24.95 17.50,22.45"/></g>
<g transform="translate(666.6,602.5) rotate(54.6) skewX(-7)" fill="#0b0b0b" stroke="#0b0b0b" stroke-width="1.1" stroke-linejoin="round"><polygon points="1.65,0.00 18.35,0.00 14.25,5.00 5.75,5.00"/><polygon points="3.25,21.70 5.75,19.20 14.25,19.20 16.75,21.70 14.25,24.20 5.75,24.20"/><polygon points="5.75,38.40 14.25,38.40 18.35,43.40 1.65,43.40"/><polygon points="0.00,2.40 5.00,5.75 5.00,18.45 2.50,20.95 0.00,18.45"/><polygon points="20.00,2.40 20.00,18.45 17.50,20.95 15.00,18.45 15.00,5.75"/><polygon points="0.00,24.95 2.50,22.45 5.00,24.95 5.00,37.65 0.00,41.00"/><polygon points="20.00,24.95 20.00,41.00 15.00,37.65 15.00,24.95 17.50,22.45"/></g>
<circle cx="584.0" cy="557.4" r="2.7" fill="#0b0b0b"/>
<circle cx="604.8" cy="586.3" r="2.7" fill="#0b0b0b"/>
<circle cx="625.5" cy="615.2" r="2.7" fill="#0b0b0b"/>
<text transform="translate(566.2,523.5) rotate(55.3)" text-anchor="middle" font-size="8.5" font-weight="bold" textLength="10.5" lengthAdjust="spacingAndGlyphs" style="fill:#111">AC</text>
<text transform="translate(585.5,510.6) rotate(55.3)" text-anchor="middle" font-size="8.5" font-weight="bold" textLength="10.5" lengthAdjust="spacingAndGlyphs" style="fill:#111">DC</text>
<path d="M576.0,511.3 L581.0,519.3" fill="none" stroke="#111" stroke-width="3.3800000000000003" stroke-linejoin="round" stroke-linecap="round" />
<circle cx="609.9" cy="500.9" r="2.9" fill="none" stroke="#111" stroke-width="1.1" stroke-dasharray="14 4.2" transform="rotate(20 609.9 500.9)"/>
<path d="M610.6,500.4 L612.9,498.9" fill="none" stroke="#111" stroke-width="1.4300000000000002" stroke-linejoin="round" stroke-linecap="round" />
<text transform="translate(622.4,522) rotate(55.3)" text-anchor="middle" font-size="7.6" font-weight="bold" textLength="19.5" lengthAdjust="spacingAndGlyphs" style="fill:#111">AUTO</text>
<g transform="translate(640.7,541) rotate(55.3)" fill="#111" stroke="#111"><path d="M-6,0 L6,0" stroke-width="1.2"/><path d="M-3,-4 L3,0 L-3,4Z" stroke-width="0.6"/><path d="M3,-4 L3,4" stroke-width="1.5"/><path d="M-1,-5.5 L-1,-3 M1.5,-6 L1.5,-3.5" stroke-width="0.8"/></g>
<g transform="translate(651.3,558) rotate(55.3)" fill="none" stroke="#222" stroke-width="0.9"><circle cx="-1" cy="0" r="1.6"/><path d="M1.3,-2.8 A3.5,3.5 0 0 1 1.3,2.8"/></g>
<g transform="translate(661.9,571.4) rotate(55.3)"><rect x="-3.6" y="-3.6" width="7.2" height="7.2" fill="#111"/><path d="M-1.4,-2.2 V2.2 M1.4,-2.2 V2.2 M-1.4,0 H1.4" stroke="#fff" stroke-width="0.9" fill="none"/></g>
<g transform="translate(670.8,586.9) rotate(55.3)"><path d="M-3.2,3 L0,-3 L3.2,3Z" fill="none" stroke="#111" stroke-width="0.9"/></g>
<g transform="translate(685,604.6) rotate(55.3)"><rect x="-6.6" y="-3.1" width="13.2" height="6.2" fill="#111"/><path d="M-3.3,-2.2 V2.2 M0,-2.2 V2.2 M3.3,-2.2 V2.2" stroke="#ddd" stroke-width="0.6"/></g>
<text transform="translate(664.2,644.3) rotate(55.3)" text-anchor="middle" font-size="7.2" font-weight="bold" textLength="22" lengthAdjust="spacingAndGlyphs" style="fill:#111">MKΩHz</text>
<text transform="translate(656.2,649.4) rotate(55.3)" text-anchor="middle" font-size="7.2" font-weight="bold" textLength="21" lengthAdjust="spacingAndGlyphs" style="fill:#111">nFμmVA</text>
<text transform="translate(633.9,491.4) rotate(55.5)" font-family="Liberation Sans, sans-serif" font-size="17.6" style="fill:#111" textLength="141.5" lengthAdjust="spacingAndGlyphs">PEN TYPE METER</text>
<path d="M313.9,63.3 L510.4,61.8" fill="none" stroke="#d9772f" stroke-width="1.9" stroke-linejoin="round" stroke-linecap="round" stroke-opacity="0.95"/>
<path d="M260.9,160.8 L305.4,162.0" fill="none" stroke="#d9772f" stroke-width="1.9" stroke-linejoin="round" stroke-linecap="round" stroke-opacity="0.95"/>
<path d="M470.6,245.8 L615.1,244.8" fill="none" stroke="#d9772f" stroke-width="1.9" stroke-linejoin="round" stroke-linecap="round" stroke-opacity="0.95"/>
<path d="M486.1,310.9 L581.0,310.7" fill="none" stroke="#d9772f" stroke-width="1.9" stroke-linejoin="round" stroke-linecap="round" stroke-opacity="0.95"/>
<path d="M306.0,319.6 L390.5,320.3" fill="none" stroke="#d9772f" stroke-width="1.9" stroke-linejoin="round" stroke-linecap="round" stroke-opacity="0.95"/>
<path d="M424.8,327.0 L424.8,358.8 L355.3,358.8" fill="none" stroke="#d9772f" stroke-width="1.9" stroke-linejoin="round" stroke-linecap="round" stroke-opacity="0.95"/>
<path d="M458.6,327.0 L459.0,418.5 L381.5,418.5" fill="none" stroke="#d9772f" stroke-width="1.9" stroke-linejoin="round" stroke-linecap="round" stroke-opacity="0.95"/>
<path d="M502.8,368.5 L617.5,368.3" fill="none" stroke="#d9772f" stroke-width="1.9" stroke-linejoin="round" stroke-linecap="round" stroke-opacity="0.95"/>
<path d="M525.7,428.1 L668.0,428.6" fill="none" stroke="#d9772f" stroke-width="1.9" stroke-linejoin="round" stroke-linecap="round" stroke-opacity="0.95"/>
<path d="M558.5,459.8 L413.0,459.5" fill="none" stroke="#d9772f" stroke-width="1.9" stroke-linejoin="round" stroke-linecap="round" stroke-opacity="0.95"/>
<path d="M478.0,583.2 L610.8,583.5" fill="none" stroke="#d9772f" stroke-width="1.9" stroke-linejoin="round" stroke-linecap="round" stroke-opacity="0.95"/>
<path d="M558.3,750.3 L750.2,750.3" fill="none" stroke="#d9772f" stroke-width="1.9" stroke-linejoin="round" stroke-linecap="round" stroke-opacity="0.95"/>
<circle cx="313.9" cy="63.3" r="8.9" fill="#f3a05c" fill-opacity="0.62"/>
<circle cx="313.9" cy="63.3" r="5.9" fill="#fde8d6" fill-opacity="0.6"/>
<circle cx="313.9" cy="63.3" r="3.2" fill="#f2681a"/>
<circle cx="305.4" cy="162" r="8.9" fill="#f3a05c" fill-opacity="0.62"/>
<circle cx="305.4" cy="162" r="5.9" fill="#fde8d6" fill-opacity="0.6"/>
<circle cx="305.4" cy="162" r="3.2" fill="#f2681a"/>
<circle cx="470.6" cy="245.8" r="8.9" fill="#f3a05c" fill-opacity="0.62"/>
<circle cx="470.6" cy="245.8" r="5.9" fill="#fde8d6" fill-opacity="0.6"/>
<circle cx="470.6" cy="245.8" r="3.2" fill="#f2681a"/>
<circle cx="486.1" cy="310.9" r="8.9" fill="#f3a05c" fill-opacity="0.62"/>
<circle cx="486.1" cy="310.9" r="5.9" fill="#fde8d6" fill-opacity="0.6"/>
<circle cx="486.1" cy="310.9" r="3.2" fill="#f2681a"/>
<circle cx="390.5" cy="320.3" r="8.9" fill="#f3a05c" fill-opacity="0.62"/>
<circle cx="390.5" cy="320.3" r="5.9" fill="#fde8d6" fill-opacity="0.6"/>
<circle cx="390.5" cy="320.3" r="3.2" fill="#f2681a"/>
<circle cx="424.8" cy="327" r="8.9" fill="#f3a05c" fill-opacity="0.62"/>
<circle cx="424.8" cy="327" r="5.9" fill="#fde8d6" fill-opacity="0.6"/>
<circle cx="424.8" cy="327" r="3.2" fill="#f2681a"/>
<circle cx="458.6" cy="327" r="8.9" fill="#f3a05c" fill-opacity="0.62"/>
<circle cx="458.6" cy="327" r="5.9" fill="#fde8d6" fill-opacity="0.6"/>
<circle cx="458.6" cy="327" r="3.2" fill="#f2681a"/>
<circle cx="502.8" cy="368.5" r="8.9" fill="#f3a05c" fill-opacity="0.62"/>
<circle cx="502.8" cy="368.5" r="5.9" fill="#fde8d6" fill-opacity="0.6"/>
<circle cx="502.8" cy="368.5" r="3.2" fill="#f2681a"/>
<circle cx="525.7" cy="428.1" r="8.9" fill="#f3a05c" fill-opacity="0.62"/>
<circle cx="525.7" cy="428.1" r="5.9" fill="#fde8d6" fill-opacity="0.6"/>
<circle cx="525.7" cy="428.1" r="3.2" fill="#f2681a"/>
<circle cx="558.5" cy="459.8" r="8.9" fill="#f3a05c" fill-opacity="0.62"/>
<circle cx="558.5" cy="459.8" r="5.9" fill="#fde8d6" fill-opacity="0.6"/>
<circle cx="558.5" cy="459.8" r="3.2" fill="#f2681a"/>
<circle cx="610.8" cy="583.5" r="8.9" fill="#f3a05c" fill-opacity="0.62"/>
<circle cx="610.8" cy="583.5" r="5.9" fill="#fde8d6" fill-opacity="0.6"/>
<circle cx="610.8" cy="583.5" r="3.2" fill="#f2681a"/>
<circle cx="750.2" cy="750.3" r="8.9" fill="#f3a05c" fill-opacity="0.62"/>
<circle cx="750.2" cy="750.3" r="5.9" fill="#fde8d6" fill-opacity="0.6"/>
<circle cx="750.2" cy="750.3" r="3.2" fill="#f2681a"/>
<text x="526.9" y="73.9" font-size="40.0" textLength="141.8" lengthAdjust="spacingAndGlyphs">Red pen</text>
<text x="87.7" y="165.8" font-size="24.3" textLength="162.7" lengthAdjust="spacingAndGlyphs">LED flashlight</text>
<text x="627.0" y="255.9" font-size="24.3" textLength="133.0" lengthAdjust="spacingAndGlyphs">Rotary gear</text>
<text x="627.0" y="304.0" font-size="24.3" textLength="333.0" lengthAdjust="spacingAndGlyphs">Non contact inductive testing</text>
<text x="2.6" y="316.1" font-size="24.3" textLength="177.6" lengthAdjust="spacingAndGlyphs">AC / DC voltage</text>
<text x="0.6" y="364.1" font-size="24.3" textLength="294.8" lengthAdjust="spacingAndGlyphs">Resistance / capacitance /</text>
<text x="1.6" y="387.4" font-size="24.3" textLength="171.8" lengthAdjust="spacingAndGlyphs">diode / on / off</text>
<text x="182.4" y="431.6" font-size="24.3" textLength="179.4" lengthAdjust="spacingAndGlyphs">AC / DC current</text>
<text x="180.4" y="455.2" font-size="24.3" textLength="222.1" lengthAdjust="spacingAndGlyphs">Function key switch</text>
<text x="649.0" y="381.5" font-size="24.3" textLength="237.6" lengthAdjust="spacingAndGlyphs">Long press: backlight</text>
<text x="649.0" y="405.3" font-size="24.3" textLength="314.6" lengthAdjust="spacingAndGlyphs">Single press: data retention</text>
<text x="649.0" y="429.2" font-size="24.3" textLength="146.7" lengthAdjust="spacingAndGlyphs">manual range</text>
<text x="108.6" y="593.1" font-size="24.3" textLength="341.8" lengthAdjust="spacingAndGlyphs">Screen backlight / 4000 count</text>
<text x="340.8" y="757.7" font-size="24.3" textLength="207.8" lengthAdjust="spacingAndGlyphs">Black common jack</text>
</svg>
</body></html>
